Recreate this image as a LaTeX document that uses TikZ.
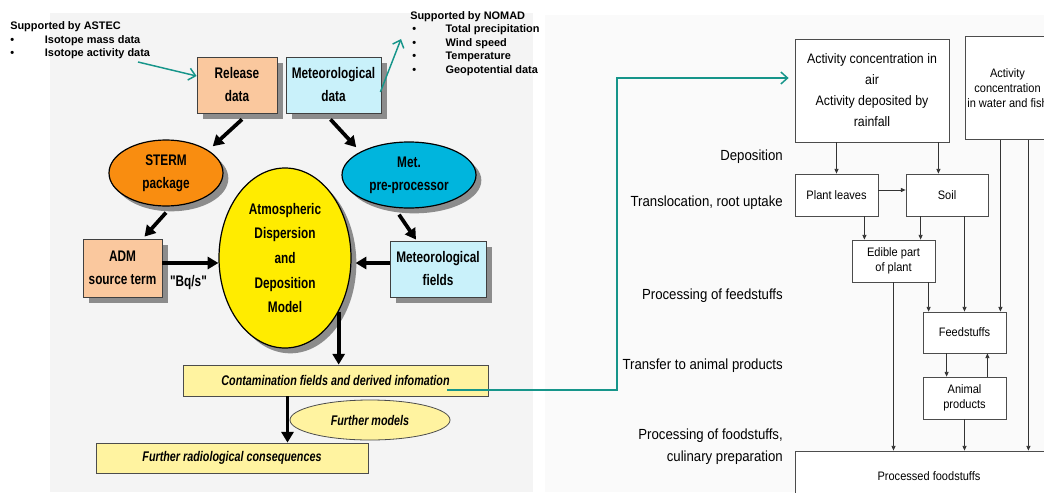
\documentclass[tikz,border=0pt]{standalone}
\usepackage{fontspec}
\setmainfont{Liberation Sans}
\newfontfamily\boxfont[FakeStretch=0.77]{Liberation Sans}
\newfontfamily\flowfont[FakeStretch=0.9]{Liberation Sans}
\usetikzlibrary{shapes.geometric,shadows,arrows.meta,calc}
\usepackage{xcolor}
\definecolor{releasefill}{HTML}{FAC89E}
\definecolor{meteofill}{HTML}{C9F1FA}
\definecolor{stermfill}{HTML}{F98D10}
\definecolor{metprefill}{HTML}{00B5DD}
\definecolor{modelfill}{HTML}{FFEC00}
\definecolor{resultfill}{HTML}{FFF3A0}
\definecolor{linkteal}{HTML}{16958A}
\definecolor{panelleft}{HTML}{F4F4F4}
\definecolor{panelright}{HTML}{FAFAFA}

\begin{document}
\begin{tikzpicture}[x=0.75pt,y=-0.75pt,
	boxlbl/.style={font=\boxfont\bfseries\fontsize{11.5}{17.25}\selectfont, align=center},
	srcbox/.style={draw=black!75, line width=0.6pt, inner sep=0pt, boxlbl,
		drop shadow={shadow xshift=4.5pt, shadow yshift=-4.5pt, fill=black!45, opacity=1}},
	bubble/.style={ellipse, draw=black, line width=0.9pt, inner sep=0pt, boxlbl,
		drop shadow={shadow xshift=4pt, shadow yshift=-4pt, fill=black!45, opacity=1}},
	outbox/.style={draw=black!70, line width=0.6pt, fill=resultfill, inner sep=0pt,
		font=\boxfont\bfseries\itshape\fontsize{10.5}{12}\selectfont},
	bigarrow/.style={line width=2.8pt, -{Triangle[length=8pt,width=9pt]}},
	linkarrow/.style={draw=linkteal, line width=1.1pt, -{Straight Barb[length=5pt,width=9pt]}},
	infotext/.style={anchor=north west, inner sep=0pt, align=left,
		font=\bfseries\fontsize{8.2}{10.1}\selectfont},
	flowbox/.style={draw=black!70, line width=0.6pt, fill=white, inner sep=0pt, align=center,
		font=\flowfont\fontsize{9.2}{11.25}\selectfont},
	flowarrow/.style={draw=black!80, line width=0.6pt, -{Triangle[length=3.5pt,width=3pt]}},
	steplabel/.style={anchor=east, inner sep=0pt, align=right,
		font=\flowfont\fontsize{11}{16.5}\selectfont}]
	\useasboundingbox (0,0) rectangle (1044,492);
	\clip (0,0) rectangle (1044,492);
	\fill[panelleft] (50,13) rectangle (533,492);
	\fill[panelright] (545,15) rectangle (1044,492);

	% dispersion model chain
	\node[infotext] (astec) at (10,21.5) {Supported by ASTEC\\
		\makebox[26pt][l]{\textbullet}Isotope mass data\\
		\makebox[26pt][l]{\textbullet}Isotope activity data};
	\node[infotext] (nomad) at (410,11) {Supported by NOMAD\\
		\hspace{1.5pt}\makebox[25pt][l]{\textbullet}Total precipitation\\
		\hspace{1.5pt}\makebox[25pt][l]{\textbullet}Wind speed\\
		\hspace{1.5pt}\makebox[25pt][l]{\textbullet}Temperature\\
		\hspace{1.5pt}\makebox[25pt][l]{\textbullet}Geopotential data};

	\node[srcbox, fill=releasefill, minimum width=60pt, minimum height=42pt] (release) at (237,85) {Release\\data};
	\node[srcbox, fill=meteofill, minimum width=71.25pt, minimum height=42pt] (meteo) at (333.5,85) {Meteorological\\data};
	\node[bubble, fill=stermfill, minimum width=85.5pt, minimum height=49.5pt] (sterm) at (166,173) {STERM\\package};
	\node[bubble, fill=metprefill, minimum width=100.5pt, minimum height=49.5pt] (metpre) at (409,175) {Met.\\pre-processor};
	\node[srcbox, fill=releasefill, minimum width=59.25pt, minimum height=43.5pt] (adm) at (122.5,268) {ADM\\source term};
	\node[bubble, fill=modelfill, minimum width=99pt, minimum height=135pt,
		font=\boxfont\bfseries\fontsize{11.5}{18.4}\selectfont] (model) at (285,258) {Atmospheric\\Dispersion\\and\\Deposition\\Model};
	\node[srcbox, fill=meteofill, minimum width=72pt, minimum height=42pt] (metfields) at (438,269) {Meteorological\\fields};
	\node[boxlbl, inner sep=0pt] (bqs) at (188.5,283) {"Bq/s"};

	\coordinate (astecarr) at (138,62);
	\coordinate (nomadarr) at (401,39);
	\draw[linkarrow] (astecarr) -- ($(release.west)+(0,-9)$);
	\draw[linkarrow] ($(meteo.east)+(-1,7)$) -- (nomadarr);

	\draw[bigarrow] ($(release.south)+(5,6)$) -- ($(sterm.north east)+(6,-3)$);
	\draw[bigarrow] ($(meteo.south)+(-3,6)$) -- ($(metpre.north west)+(-5,-4)$);
	\draw[bigarrow] ($(sterm.south)+(0,6)$) -- ($(adm.north)+(22,-2)$);
	\draw[bigarrow] ($(metpre.south)+(-10,6)$) -- ($(metfields.north)+(-22,-1)$);
	\coordinate (bq) at ($(adm.east)+(0,-5)$);
	\coordinate (mf) at ($(metfields.west)+(0,-6)$);
	\draw[bigarrow] (bq) -- (bq -| model.west);
	\draw[bigarrow] (mf) -- ($(mf -| model.east)+(4,0)$);

	\node[outbox, minimum width=228.75pt, minimum height=23.25pt] (contam) at (335.5,380.5) {Contamination fields and derived infomation};
	\draw[bigarrow] (model.-45) -- (model.-45 |- contam.north);
	\node[outbox, ellipse, minimum width=120pt, minimum height=30pt] (furthermod) at (370,420) {Further models};
	\node[outbox, minimum width=204pt, minimum height=22.5pt] (further) at (232,458) {Further radiological consequences};
	\coordinate (cf) at ($(contam.south)+(-48,0)$);
	\draw[bigarrow] (cf) -- (cf |- further.north);

	% link to food chain
	\coordinate (link) at (447,390);
	\coordinate (bend) at (617,78);

	% food chain
	\node[flowbox, minimum width=115.5pt, minimum height=77.25pt,
		font=\flowfont\fontsize{10.3}{15.75}\selectfont] (airbox) at (872,90.5) {Activity concentration in\\air\\Activity deposited by\\rainfall};
	\node[flowbox, minimum width=63.75pt, minimum height=77.25pt] (waterbox) at (1007.5,88) {Activity\\concentration\\in water and fish};
	\node[flowbox, minimum width=62.25pt, minimum height=31.5pt] (leaves) at (836.5,195) {Plant leaves};
	\node[flowbox, minimum width=61.5pt, minimum height=31.5pt] (soil) at (947,195) {Soil};
	\node[flowbox, minimum width=62.25pt, minimum height=31.5pt] (edible) at (893.5,261) {Edible part\\of plant};
	\node[flowbox, minimum width=62.25pt, minimum height=30.75pt] (feed) at (964.5,332.5) {Feedstuffs};
	\node[flowbox, minimum width=62.25pt, minimum height=31.5pt] (animal) at (964.5,398) {Animal\\products};
	\node[flowbox, minimum width=201pt, minimum height=37.5pt] (processed) at (929,476) {Processed foodstuffs};

	\node[steplabel] (depo) at (783,157) {Deposition};
	\node[steplabel] (transloc) at (783,203) {Translocation, root uptake};
	\node[steplabel] (procfeed) at (783,296) {Processing of feedstuffs};
	\node[steplabel] (transfer) at (783,366) {Transfer to animal products};
	\node[steplabel] (procfood) at (783,447) {Processing of foodstuffs,\\culinary preparation};

	\draw[linkarrow] (link) -| (bend) -- ($(airbox.west)+(-6,-12.5)$);

	\draw[flowarrow] (airbox.south -| leaves.north) -- (leaves.north);
	\coordinate (a2) at ($(airbox.south east)+(-11,0)$);
	\draw[flowarrow] (a2) -- (a2 |- soil.north);
	\coordinate (ls) at ($(leaves.east)+(0,-5)$);
	\draw[flowarrow] (ls) -- (ls -| soil.west);
	\coordinate (le) at ($(leaves.south east)+(-14,0)$);
	\draw[flowarrow] (le) -- (le |- edible.north);
	\coordinate (se) at ($(soil.south west)+(15,0)$);
	\draw[flowarrow] (se) -- (se |- edible.north);
	\draw[flowarrow] (soil.south -| feed.north) -- (feed.north);
	\coordinate (wf) at ($(feed.north east)+(-6,0)$);
	\draw[flowarrow] (wf |- waterbox.south) -- (wf);
	\coordinate (wp) at ($(waterbox.south east)+(-22,0)$);
	\draw[flowarrow] (wp) -- (wp |- processed.north);
	\coordinate (ef) at ($(feed.north west)+(6,0)$);
	\draw[flowarrow] (ef |- edible.south) -- (ef);
	\draw[flowarrow] (edible.south) -- (edible.south |- processed.north);
	\coordinate (fa) at ($(feed.south west)+(24,0)$);
	\draw[flowarrow] (fa) -- (fa |- animal.north);
	\coordinate (af) at ($(animal.north east)+(-19,0)$);
	\draw[flowarrow] (af) -- (af |- feed.south);
	\draw[flowarrow] (animal.south) -- (animal.south |- processed.north);
\end{tikzpicture}
\end{document}
